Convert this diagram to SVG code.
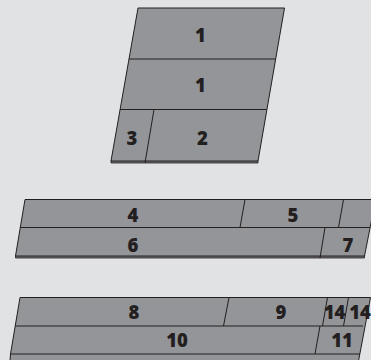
<svg xmlns="http://www.w3.org/2000/svg" width="371" height="360" viewBox="0 0 371 360">
<style>
.bg{fill:#e1e2e4}
.p{fill:#939598;stroke:#231f20;stroke-width:1;stroke-linejoin:miter}
.s{fill:#6d6e71;stroke:#231f20;stroke-width:.8}
.l{fill:none;stroke:#231f20;stroke-width:1}
text{font-family:"Open Sans","Noto Sans","Liberation Sans",sans-serif;font-weight:800;font-size:18.500px;fill:#231f20;text-anchor:middle}
</style>
<rect class="bg" width="371" height="360"/>
<g id="stack-1">
<path class="s" d="M111 160.500H258V163H111Z"/>
<path class="p" d="M138 8H284.500L258 161H111Z"/>
<path class="l" d="M129 59H275.500M120 109.500H266.500M154 109.500L145 163"/>
<g id="node-1a"><text x="200.500" y="41.500">1</text></g>
<g id="node-1b"><text x="200.500" y="91.500">1</text></g>
<g id="node-3"><text x="132" y="144.500">3</text></g>
<g id="node-2"><text x="202.500" y="144.500">2</text></g>
</g>
<g id="stack-2">
<path class="s" d="M15.500 255.500H364.500V258H15.500Z"/>
<path class="p" d="M25 199.500H372V218L364.500 256H15.500Z"/>
<path class="l" d="M20 227.500H370M245 199.500L240 227.500M343.500 199.500L338.500 227.500M325 227.500L320 258"/>
<g id="node-4"><text x="133" y="222">4</text></g>
<g id="node-5"><text x="293" y="222">5</text></g>
<g id="node-6"><text x="133" y="251.500">6</text></g>
<g id="node-7"><text x="348" y="251.500">7</text></g>
</g>
<g id="stack-3">
<path class="p" d="M20 297.500H370.500L358.500 361H10L10.500 354Z"/>
<path class="l" d="M15.500 326H363M10.500 354H360M229 297.500L223.500 326M327.500 297.500L322.500 326M348.500 297.500L343.500 326M320 326L315 354"/>
<g id="node-8"><text x="134" y="319">8</text></g>
<g id="node-9"><text x="281" y="319">9</text></g>
<g id="node-14a"><text x="334.500" y="319">14</text></g>
<g id="node-14b"><text x="360" y="319">14</text></g>
<g id="node-10"><text x="177" y="347">10</text></g>
<g id="node-11"><text x="342" y="347">11</text></g>
</g>
</svg>
